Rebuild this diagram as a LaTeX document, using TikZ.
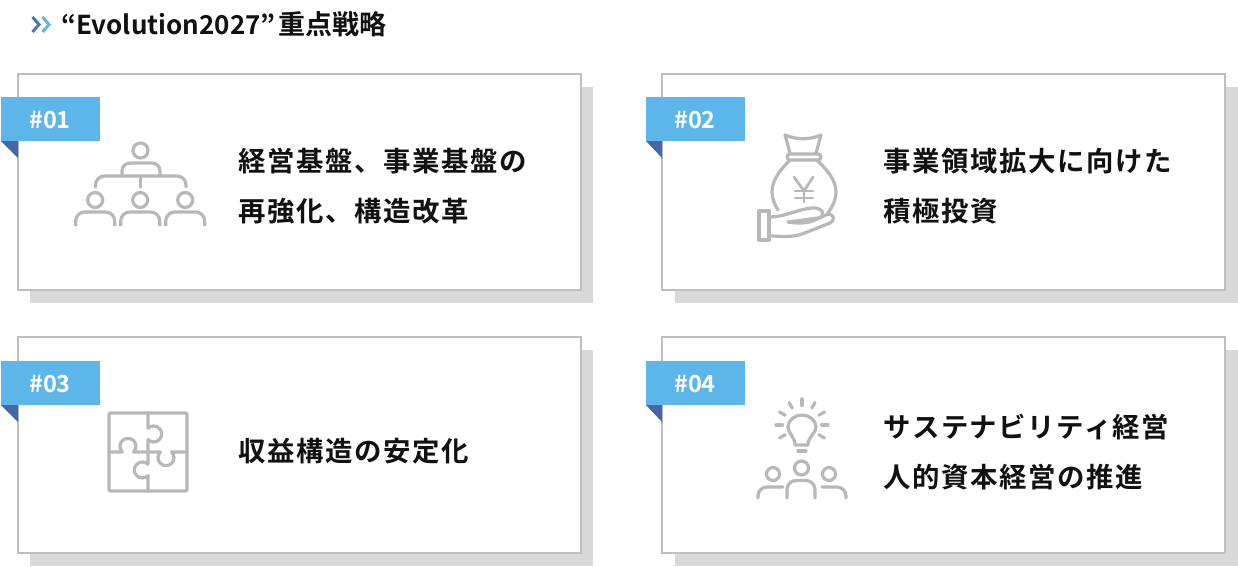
\documentclass[tikz,border=0pt]{standalone}
\usepackage{fontspec}
\setmainfont{Noto Sans CJK JP}[BoldFont={Noto Sans CJK JP Bold}]
\newfontfamily\jpbody{Noto Sans CJK JP Bold}[LetterSpace=5.6]
\newfontfamily\jphead{Noto Sans CJK JP Bold}[LetterSpace=0]
\newfontfamily\jptag{Noto Sans CJK JP Bold}
\definecolor{edgegrey}{HTML}{BFBFBF}
\definecolor{shadegrey}{HTML}{D9D9D9}
\definecolor{icongrey}{HTML}{B8B8B8}
\definecolor{tagblue}{HTML}{5DB6EA}
\definecolor{folddark}{HTML}{4666A8}
\definecolor{inkdark}{HTML}{111111}
\tikzset{
  icon/.style={draw=icongrey,line width=3.2pt,line cap=round,line join=round},
  rc/.style={rounded corners=#1pt},
  cardtext/.style={anchor=base west,inner sep=0pt,text=inkdark,font=\jpbody\fontsize{27.4}{27.4}\selectfont},
  tagtext/.style={anchor=center,inner sep=0pt,text=white,font=\jptag\fontsize{23.5}{23.5}\selectfont},
  cardbox/.style={draw=edgegrey,line width=2pt,fill=white,minimum width=563pt,minimum height=216pt,anchor=north west,inner sep=0pt,outer sep=0pt},
}
% #1 box x offset, #2 y offset, #3 id, #4 tag text, #5 tag y shift, #6 tag/shadow x shift
\newcommand{\cardat}[6]{%
  \fill[shadegrey] (#1+#6+30,#2+86.5) rectangle (#1+#6+593,#2+303);
  \node[cardbox] (card#3) at (#1+18,#2+74) {};
  \fill[folddark] (#1+#6+1,#2+141+#5) -- (#1+18,#2+141+#5) -- (#1+18,#2+158+#5) -- cycle;
  \fill[tagblue] (#1+#6+1,#2+97+#5) rectangle (#1+#6+100,#2+141+#5);
  \node[tagtext] (tag#3) at (#1+#6+50,#2+119.5+#5) {#4};
}
\begin{document}
\begin{tikzpicture}[x=1pt,y=-1pt]
\useasboundingbox (0,0) rectangle (1238,566);
% title
\draw[line width=3pt,color=folddark!80!tagblue,line join=miter] (32.5,17) -- (39,24.5) -- (32.5,32);
\draw[line width=3pt,color=tagblue,line join=miter] (42.5,17) -- (49,24.5) -- (42.5,32);
\node[anchor=base west,inner sep=0pt,text=inkdark,font=\jphead\fontsize{26}{26}\selectfont] (title) at (61,34) {“Evolution2027”\hspace{-3.5pt} {\fontsize{27}{27}\selectfont 重点戦略}};
% cards
\cardat{0}{0}{1}{\#01}{0}{0}
\cardat{644}{0}{2}{\#02}{0}{1}
\cardat{0}{263}{3}{\#03}{1}{0}
\cardat{644}{263}{4}{\#04}{1}{1}
% card text
\node[cardtext] (t1a) at (238.5,171) {経営基盤、事業基盤の};
\node[cardtext] (t1b) at (238.5,221) {再強化、構造改革};
\node[cardtext] (t2a) at (883.5,171) {事業領域拡大に向けた};
\node[cardtext] (t2b) at (883.5,221) {積極投資};
\node[cardtext] (t3a) at (238.5,461) {収益構造の安定化};
\node[cardtext] (t4a) at (883.5,437) {サステナビリティ経営};
\node[cardtext] (t4b) at (883.5,487) {人的資本経営の推進};
% org icon
\draw[icon] (140.5,150.5) circle (7.5);
\draw[icon,rc=8] (122,175) -- (122,163) -- (160,163) -- (160,175);
\draw[icon,rc=9] (95.5,187) -- (95.5,176) -- (186,176) -- (186,187);
\draw[icon] (140.5,176) -- (140.5,187);
\foreach \cx in {95.2,140.2,185.2}{
  \draw[icon] (\cx,200) circle (7.5);
  \draw[icon,rc=9,line cap=butt] (\cx-19.5,226) -- (\cx-19.5,212) -- (\cx+19.5,212) -- (\cx+19.5,226);
}
% money bag icon
\draw[icon] (785,135) .. controls (797,140) and (809,140) .. (821,135) -- (816,153);
\draw[icon] (785,135) -- (790,153);
\draw[icon,rc=3] (787,154) rectangle (821,160);
\draw[icon] (790,160) .. controls (780,170) and (772,180) .. (772,192) .. controls (772,199) and (775,205) .. (778,210);
\draw[icon] (817,160) .. controls (827,170) and (836,180) .. (836,192) .. controls (836,200) and (832,208) .. (827,214);
\draw[icon,line width=2.8pt] (794,177) -- (804,191) -- (813,177);
\draw[icon,line width=2.8pt] (795,191) -- (813,191) (795,198) -- (813,198) (804,191) -- (804,202);
\draw[icon] (759,211) rectangle (769,240);
\draw[icon] (770,217) .. controls (785,217) and (798,209) .. (812,208) .. controls (823,207) and (827,216) .. (818,218) -- (788,222);
\draw[icon] (788,222) .. controls (800,224) and (808,223) .. (815,220) -- (826,215) .. controls (834,212) and (836,220) .. (830,223) -- (802,234) .. controls (790,238) and (780,236) .. (770,236);
% puzzle icon
\draw[icon,rc=1] (109,413) rectangle (187,491);
\draw[icon] (148,413) -- (148,428.3) arc[start angle=-135,end angle=135,radius=8] -- (148,452);
\draw[icon] (109,452) -- (122.3,452) arc[start angle=135,end angle=405,radius=8] -- (148,452);
\draw[icon] (148,452) -- (160.3,452) arc[start angle=225,end angle=-45,radius=8] -- (187,452);
\draw[icon] (148,452) -- (148,464.3) arc[start angle=-45,end angle=-315,radius=8] -- (148,491);
% bulb icon
\foreach \a in {0,30,60,90,120,150,180,-30,-150}{
  \draw[icon] (802,425) ++(-\a:19.5) -- ++(-\a:6.5);
}
\draw[icon] (795,445) .. controls (795,437) and (788,433) .. (788,427) .. controls (788,420) and (795,415) .. (802,415) .. controls (809,415) and (816,420) .. (816,427) .. controls (816,433) and (808,437) .. (808,445) -- cycle;
\draw[icon] (798,451) -- (806,451);
% people
\draw[icon] (801.5,468) circle (7);
\draw[icon] (773,474) circle (6.5);
\draw[icon] (829,474) circle (6.5);
\draw[icon,rc=9] (787,498) -- (787,480.5) -- (815,480.5) -- (815,498);
\draw[icon,rc=9] (758,498) -- (758,487) -- (783,487);
\draw[icon,rc=9] (846,498) -- (846,487) -- (822,487);
\end{tikzpicture}
\end{document}
